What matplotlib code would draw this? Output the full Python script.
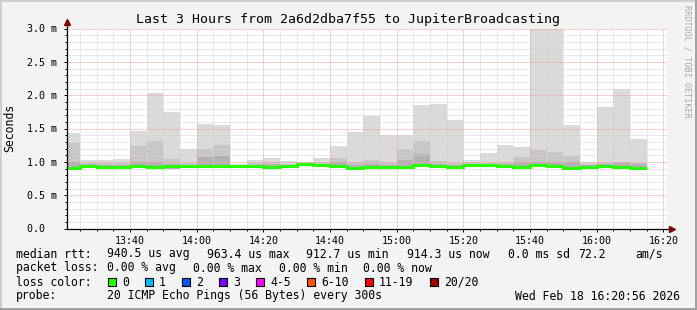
import numpy as np
import pandas as pd
import matplotlib
matplotlib.use("Agg")
import matplotlib.pyplot as plt
from matplotlib.lines import Line2D
from matplotlib.patches import Rectangle
from matplotlib.ticker import MultipleLocator, FuncFormatter

# --- data (milliseconds), one entry per 5 min step ---
first_bar = "2026-02-18 13:20"
view_start = "2026-02-18 13:21:05"
view_end = "2026-02-18 16:21:05"

median_ms = [0.913, 0.945, 0.92, 0.92, 0.94, 0.92, 0.94, 0.94, 0.94, 0.94,
             0.945, 0.945, 0.925, 0.945, 0.963, 0.958, 0.94, 0.915, 0.925, 0.92,
             0.92, 0.95, 0.94, 0.93, 0.95, 0.95, 0.935, 0.925, 0.95, 0.94,
             0.915, 0.92, 0.945, 0.925, 0.914]
max_ms = [1.44, 1.025, 1.02, 1.04, 1.46, 2.04, 1.75, 1.20, 1.57, 1.55,
          0.97, 1.025, 1.06, 1.01, 0.99, 1.065, 1.24, 1.45, 1.69, 1.40,
          1.40, 1.855, 1.87, 1.62, 1.025, 1.13, 1.25, 1.23, 3.4, 3.4,
          1.55, 0.99, 1.83, 2.095, 1.34]
upper_ms = [1.29, 0.99, 0.98, 0.98, 1.24, 1.31, 1.04, 0.99, 1.20, 1.25,
            0.96, 0.98, 1.00, 0.97, 0.98, 0.99, 1.06, 1.00, 1.02, 0.99,
            1.20, 1.31, 1.02, 0.98, 0.99, 0.99, 1.00, 1.07, 1.18, 1.15,
            1.09, 0.97, 0.99, 1.00, 0.99]
inner_ms = [1.00, 0.97, 0.96, 0.96, 1.00, 1.00, 0.97, 0.96, 1.075, 1.09,
            0.96, 0.96, 0.97, 0.96, 0.975, 0.97, 1.00, 0.95, 0.97, 0.96,
            1.025, 1.115, 0.97, 0.96, 0.97, 0.97, 0.97, 0.99, 1.00, 1.00,
            1.00, 0.96, 0.97, 0.98, 0.97]
low_ms = [0.90, 0.93, 0.91, 0.91, 0.92, 0.89, 0.90, 0.92, 0.92, 0.92,
          0.93, 0.93, 0.91, 0.93, 0.94, 0.93, 0.91, 0.90, 0.91, 0.91,
          0.89, 0.93, 0.92, 0.91, 0.94, 0.93, 0.92, 0.91, 0.93, 0.92,
          0.90, 0.91, 0.93, 0.90, 0.90]

loss_labels = ["0", "1", "2", "3", "4-5", "6-10", "11-19", "20/20"]
loss_colors = ["#26ff00", "#00b8ff", "#0059ff", "#7e00ff", "#ff00ff",
               "#ff5500", "#ff0000", "#a10000"]

W, H = 697, 310
BG = "#f3f3f3"
MONO = "DejaVu Sans Mono"


def minutes(ts):
    ts = pd.to_datetime(ts)
    return ts.hour * 60 + ts.minute + ts.second / 60.0


starts = pd.date_range(first_bar, periods=len(median_ms), freq="5min")
x0 = np.array([minutes(t) for t in starts])
step = 5.0

fig = plt.figure(figsize=(W / 100, H / 100), dpi=100, facecolor=BG)
ax = fig.add_axes([67 / W, 1 - 228.5 / H, 600 / W, 200 / H])
ax.set_facecolor("white")

low = np.array(low_ms)
ax.bar(x0, np.array(max_ms) - low, bottom=low, width=step, align="edge",
       color="#dadada", linewidth=0, zorder=1)
ax.bar(x0, np.array(upper_ms) - low, bottom=low, width=step, align="edge",
       color="#c6c6c6", linewidth=0, zorder=1.1)
ax.bar(x0, np.array(inner_ms) - low, bottom=low, width=step, align="edge",
       color="#b2b2b2", linewidth=0, zorder=1.2)

edges = np.append(x0, x0[-1] + step)
ax.stairs(median_ms, edges, baseline=None, color=loss_colors[0],
          linewidth=2.2, zorder=3)

ax.set_xlim(minutes(view_start), minutes(view_end))
ax.set_ylim(0, 3.0)

ax.xaxis.set_major_locator(MultipleLocator(20))
ax.xaxis.set_minor_locator(MultipleLocator(5))
ax.yaxis.set_major_locator(MultipleLocator(0.5))
ax.yaxis.set_minor_locator(MultipleLocator(0.1))
ax.xaxis.set_major_formatter(FuncFormatter(lambda v, p: f"{int(v // 60)}:{int(round(v % 60)):02d}"))
ax.yaxis.set_major_formatter(FuncFormatter(lambda v, p: "0.0  " if v == 0 else f"{v:.1f} m"))

ax.grid(which="minor", color="#d4d4d4", linestyle=(0, (1, 1)), linewidth=0.72)
ax.grid(which="major", color="#f2a0a0", linestyle=(0, (1, 1)), linewidth=0.72)
ax.set_axisbelow(False)

for s in ax.spines.values():
    s.set_visible(False)
ax.tick_params(which="both", direction="out", color="black", width=0.72,
               labelsize=7.2)
ax.tick_params(axis="y", which="major", length=2.5, pad=4.5)
ax.tick_params(axis="x", which="major", length=2.5, pad=3)
ax.tick_params(which="minor", length=1.5)
for lab in ax.get_xticklabels() + ax.get_yticklabels():
    lab.set_fontfamily(MONO)

# axis lines with the rrdtool arrow heads
ax.add_line(Line2D([0, 0], [0, 1.035], transform=ax.transAxes, color="black",
                   linewidth=0.9, clip_on=False, zorder=5))
ax.add_line(Line2D([0, 1.008], [0, 0], transform=ax.transAxes, color="black",
                   linewidth=0.9, clip_on=False, zorder=5))
ax.plot([0], [1.035], marker="^", color="#800000", markersize=4,
        transform=ax.transAxes, clip_on=False, zorder=6)
ax.plot([1.008], [0], marker=">", color="#800000", markersize=4,
        transform=ax.transAxes, clip_on=False, zorder=6)


def ftext(x, y, s, size=8.3, **kw):
    fig.text(x / W, 1 - y / H, s, fontsize=size, fontfamily=MONO,
             va="center", **kw)


ftext(W / 2, 19.5, "Last 3 Hours from 2a6d2dba7f55 to JupiterBroadcasting",
      size=9.55, ha="center")
ftext(10, 128, "Seconds", ha="center", rotation=90)
ftext(687, 61, "RRDTOOL / TOBI OETIKER", size=6.1, ha="center",
      rotation=270, color="#a8a8a8")

row1 = [(16, "median rtt:"), (107, "940.5 us avg"), (207, "963.4 us max"),
        (306, "912.7 us min"), (407, "914.3 us now"), (508, "0.0 ms sd"),
        (578, "72.2"), (635, "am/s")]
row2 = [(16, "packet loss:"), (107, "0.00 % avg"), (193, "0.00 % max"),
        (279, "0.00 % min"), (363, "0.00 % now")]
for xp, s in row1:
    ftext(xp, 254, s, ha="left")
for xp, s in row2:
    ftext(xp, 268, s, ha="left")

ftext(16, 282, "loss color:", ha="left")
box_x = [108, 145, 182, 219, 256, 307, 365, 430]
for bx, lab, col in zip(box_x, loss_labels, loss_colors):
    fig.add_artist(Rectangle((bx / W, 1 - 286 / H), 8 / W, 8 / H,
                             transform=fig.transFigure, facecolor=col,
                             edgecolor="black", linewidth=0.8))
    ftext(bx + 14, 282, lab, ha="left")

ftext(16, 296, "probe:", ha="left")
ftext(107, 296, "20 ICMP Echo Pings (56 Bytes) every 300s", ha="left")
ftext(680, 296, "Wed Feb 18 16:20:56 2026", ha="right")

# 3d-ish frame around the image
fig.add_artist(Line2D([0, 1], [1 - 1 / H] * 2, transform=fig.transFigure, color="#d0d0d0", linewidth=1.4))
fig.add_artist(Line2D([1 / W] * 2, [0, 1], transform=fig.transFigure, color="#d0d0d0", linewidth=1.4))
fig.add_artist(Line2D([0, 1], [1 / H] * 2, transform=fig.transFigure, color="#a0a0a0", linewidth=1.4))
fig.add_artist(Line2D([1 - 1 / W] * 2, [0, 1], transform=fig.transFigure, color="#a0a0a0", linewidth=1.4))

fig.savefig("out.png", dpi=100, facecolor=BG)
